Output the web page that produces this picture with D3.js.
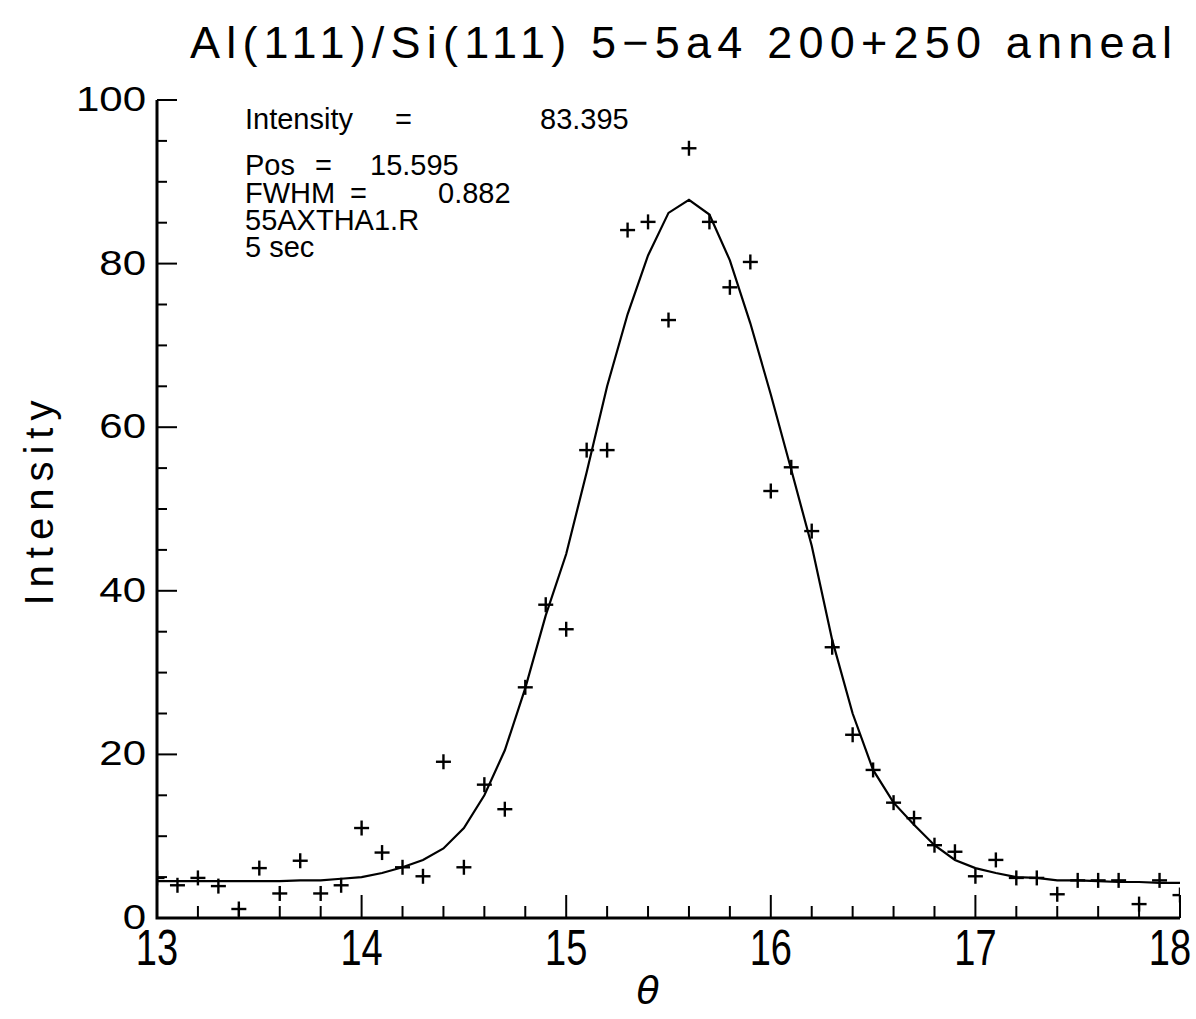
<!DOCTYPE html>
<meta charset="utf-8">
<style>
    body { margin: 0; background: #fff; }
    text { font-family: "Liberation Sans", Arial, sans-serif; fill: #000; }
    .axis-line { stroke: #000; stroke-width: 3px; fill: none; }
    .tick-line { stroke: #000; stroke-width: 2px; }
    .fit { stroke: #000; stroke-width: 2.2px; fill: none; }
    .pt { stroke: #000; stroke-width: 2.4px; }
</style>
<body>
<script src="https://d3js.org/d3.v7.min.js"></script>
<script>
// measured points, theta step 0.1 from 13.0 to 18.0
var theta = [13.0, 13.1, 13.2, 13.3, 13.4, 13.5, 13.6, 13.7, 13.8, 13.9,
             14.0, 14.1, 14.2, 14.3, 14.4, 14.5, 14.6, 14.7, 14.8, 14.9,
             15.0, 15.1, 15.2, 15.3, 15.4, 15.5, 15.6, 15.7, 15.8, 15.9,
             16.0, 16.1, 16.2, 16.3, 16.4, 16.5, 16.6, 16.7, 16.8, 16.9,
             17.0, 17.1, 17.2, 17.3, 17.4, 17.5, 17.6, 17.7, 17.8, 17.9, 18.0];
var counts = [4.9, 4.0, 4.9, 3.9, 1.1, 6.1, 3.0, 7.0, 3.0, 4.0,
              11.0, 8.0, 6.2, 5.1, 19.1, 6.2, 16.3, 13.3, 28.2, 38.3,
              35.3, 57.2, 57.2, 84.1, 85.1, 73.1, 94.1, 85.1, 77.1, 80.2,
              52.2, 55.1, 47.3, 33.1, 22.4, 18.1, 14.1, 12.2, 8.9, 8.1,
              5.1, 7.1, 4.9, 4.9, 2.9, 4.6, 4.6, 4.6, 1.7, 4.6, 2.8];
// fitted curve, same theta values
var fitted = [4.5, 4.5, 4.5, 4.5, 4.5, 4.5, 4.5, 4.6, 4.6, 4.8,
              5.0, 5.5, 6.2, 7.1, 8.5, 11.0, 15.0, 20.5, 28.1, 37.0,
              44.5, 54.5, 65.0, 73.8, 81.0, 86.2, 87.8, 86.0, 80.4, 72.7,
              64.0, 54.8, 45.5, 34.0, 25.0, 18.1, 14.1, 11.4, 8.9, 7.1,
              6.1, 5.5, 5.0, 4.9, 4.6, 4.6, 4.5, 4.4, 4.4, 4.3, 4.3];

var xMajor = [13, 14, 15, 16, 17, 18];
var yMajor = [0, 20, 40, 60, 80, 100];

var title = "Al(111)/Si(111) 5\u22125a4 200+250 anneal";
var fitInfo = [
    ["Intensity", "=", "83.395"],
    ["Pos", "=", "15.595"],
    ["FWHM", "=", "0.882"],
    ["55AXTHA1.R", "", ""],
    ["5 sec", "", ""]
];

(function() {
var W = 1196, H = 1019;
var pLeft = 157, pRight = 1180, pTop = 100, pBottom = 918;

var svg = d3.select("body").append("svg").attr("width", W).attr("height", H);

var x = d3.scaleLinear().domain([13, 18]).range([pLeft, pRight]);
var y = d3.scaleLinear().domain([0, 100]).range([pBottom, pTop]);

svg.append("defs").append("clipPath").attr("id", "plotclip")
    .append("rect").attr("x", pLeft).attr("y", 0).attr("width", pRight - pLeft).attr("height", pBottom);

// title
svg.append("text").attr("x", 190).attr("y", 58)
    .attr("textLength", 982).attr("lengthAdjust", "spacing")
    .style("font-size", "45px").text(title);

// ticks (inward)
var xMinor = d3.range(0, 26).map(i => 13 + i * 0.2);
var yMinor = d3.range(0, 21).map(i => i * 5);
var isMajorX = d => Math.abs(d - Math.round(d)) < 1e-6;

svg.append("g").selectAll("line").data(xMinor).enter().append("line")
    .attr("class", "tick-line")
    .attr("x1", d => x(d)).attr("x2", d => x(d))
    .attr("y1", pBottom)
    .attr("y2", d => pBottom - (isMajorX(d) ? 23 : 12));

svg.append("g").selectAll("line").data(yMinor).enter().append("line")
    .attr("class", "tick-line")
    .attr("y1", d => y(d)).attr("y2", d => y(d))
    .attr("x1", pLeft)
    .attr("x2", d => pLeft + (d % 20 === 0 ? 20 : 10));

// axis lines
svg.append("path").attr("class", "axis-line")
    .attr("d", "M" + pLeft + "," + y(100) + "V" + pBottom + "H" + pRight);

// tick labels
svg.append("g").selectAll("text").data(xMajor).enter().append("text")
    .attr("transform", d => "translate(" + Math.min(x(d), W - 26) + ",965) scale(1,1.3)")
    .attr("text-anchor", "middle")
    .style("font-size", "38px")
    .text(d => d);

svg.append("g").selectAll("text").data(yMajor).enter().append("text")
    .attr("transform", d => "translate(146," + (y(d) + 11) + ") scale(1.2,1)")
    .attr("text-anchor", "end")
    .style("font-size", "35px")
    .text(d => d);

// axis titles
svg.append("text")
    .attr("transform", "translate(53,503) rotate(-90)")
    .attr("text-anchor", "middle")
    .attr("textLength", 205).attr("lengthAdjust", "spacing")
    .style("font-size", "40px")
    .text("Intensity");

svg.append("text").attr("x", 648).attr("y", 1003)
    .attr("text-anchor", "middle")
    .style("font-family", "'DejaVu Sans', sans-serif")
    .style("font-style", "italic")
    .style("font-size", "38px")
    .text("\u03b8");

// fit info block
var infoY = [129, 175, 203, 230, 257];
var infoXs = [[245, 395, 540], [245, 315, 370], [245, 350, 438], [245], [245]];
fitInfo.forEach(function(row, i) {
    row.forEach(function(s, j) {
        if (!s) return;
        svg.append("text").attr("x", infoXs[i][j]).attr("y", infoY[i])
            .style("font-size", "29px").text(s);
    });
});

// fitted curve
var pts = theta.map((t, i) => ({t: t, c: counts[i], f: fitted[i]}));
var plot = svg.append("g").attr("clip-path", "url(#plotclip)");

plot.append("path").datum(pts).attr("class", "fit")
    .attr("d", d3.line().x(d => x(d.t)).y(d => y(d.f)).curve(d3.curveLinear));

// data crosses
var arm = 7.5;
var cross = plot.append("g").selectAll("g").data(pts).enter().append("g")
    .attr("transform", d => "translate(" + x(d.t) + "," + y(d.c) + ")");
cross.append("line").attr("class", "pt").attr("x1", -arm).attr("x2", arm);
cross.append("line").attr("class", "pt").attr("y1", -arm).attr("y2", arm);
})();
</script>
</body>
